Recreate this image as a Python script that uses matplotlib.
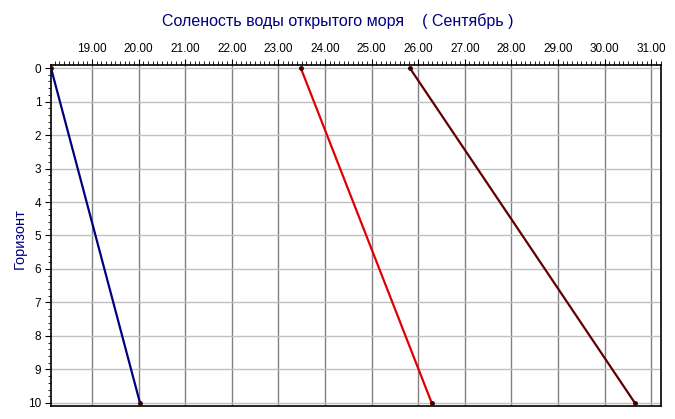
import matplotlib
matplotlib.use("Agg")
import matplotlib.pyplot as plt
from matplotlib.ticker import MultipleLocator, FormatStrFormatter

plt.rcParams['font.family'] = ['Liberation Sans', 'DejaVu Sans']

depth = [0, 10]
series_blue = [18.12, 20.03]
series_red = [23.48, 26.29]
series_darkred = [25.82, 30.65]

title = "Соленость воды открытого моря    ( Сентябрь )"
ylabel = "Горизонт"

fig = plt.figure(figsize=(6.75, 4.19), dpi=100)
ax = fig.add_axes([51/675, 1-406/419, (661-51)/675, (406-65)/419])

ax.plot(series_blue, depth, color='#000080', lw=1.6, marker='o', ms=2.5, mfc='#400000', mec='#400000', zorder=3)
ax.plot(series_red, depth, color='#e00000', lw=1.6, marker='o', ms=2.5, mfc='#400000', mec='#400000', zorder=3)
ax.plot(series_darkred, depth, color='#600000', lw=1.6, marker='o', ms=2.5, mfc='#400000', mec='#400000', zorder=3)

ax.set_xlim(18.12, 31.21)
ax.set_ylim(10.09, -0.09)
ax.xaxis.tick_top()
ax.xaxis.set_major_locator(MultipleLocator(1))
ax.xaxis.set_minor_locator(MultipleLocator(0.1))
ax.xaxis.set_major_formatter(FormatStrFormatter('%.2f'))
ax.yaxis.set_major_locator(MultipleLocator(1))
ax.yaxis.set_minor_locator(MultipleLocator(0.2))

ax.tick_params(axis='x', which='major', length=4, width=0.8, labelsize=8.5, pad=3, direction='out')
ax.tick_params(axis='x', which='minor', length=3, width=0.6, direction='out')
ax.tick_params(axis='y', which='major', length=4, width=0.8, labelsize=8.5, pad=3, direction='out')
ax.tick_params(axis='y', which='minor', length=2.5, width=0.6, direction='out')

ax.grid(False)
for v in range(19, 32):
    ax.axvline(v, color='#808080', lw=1.0, zorder=1)
for h in range(0, 11):
    ax.axhline(h, color='#c0c0c0', lw=1.0, zorder=1)

for s in ax.spines.values():
    s.set_color('black')
    s.set_linewidth(1.2)

fig.text(20/675, 1-239/419, ylabel, rotation=90, ha='center', va='center', fontsize=10.5, color='#000080')
fig.text(0.5, 1-21/419, title, ha='center', va='center', fontsize=11.5, color='#000080')

fig.savefig('out.png', dpi=100)
